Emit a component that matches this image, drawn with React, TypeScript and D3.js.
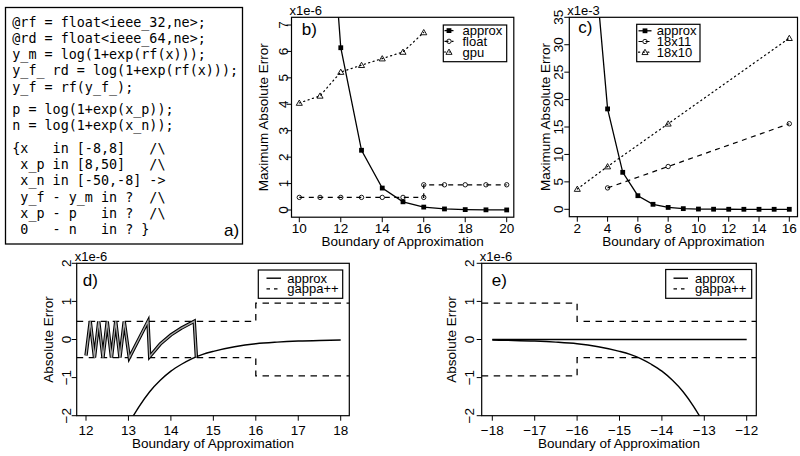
import React from 'react';
import * as d3 from 'd3';

const FONT = '"Liberation Sans", Arial, Helvetica, sans-serif';
const MONO = '"DejaVu Sans Mono", "Liberation Mono", monospace';

// ---------- panel a: code listing ----------
const codeLines = [
  '@rf = float<ieee_32,ne>;',
  '@rd = float<ieee_64,ne>;',
  'y_m = log(1+exp(rf(x)));',
  'y_f_ rd = log(1+exp(rf(x)));',
  'y_f = rf(y_f_);',
  'p = log(1+exp(x_p));',
  'n = log(1+exp(x_n));',
  '{x   in [-8,8]   /\\',
  ' x_p in [8,50]   /\\',
  ' x_n in [-50,-8] ->',
  ' y_f - y_m in ?  /\\',
  ' x_p - p   in ?  /\\',
  ' 0   - n   in ? }',
];

// ---------- panel b ----------
const bBoundary = [10, 11, 12, 13, 14, 15, 16, 17, 18, 19, 20];
const bApprox = [45.4, 16.7, 6.14, 2.26, 0.83, 0.31, 0.11, 0.04, 0.015, 0.006, 0.002];
const bFloatX = [10, 11, 12, 13, 14, 15, 16, 16, 17, 18, 19, 20];
const bFloat = [0.477, 0.477, 0.477, 0.477, 0.477, 0.477, 0.477, 0.954, 0.954, 0.954, 0.954, 0.954];
const bGpuX = [10, 11, 12, 13, 14, 15, 16];
const bGpu = [4.05, 4.32, 5.22, 5.48, 5.73, 5.98, 6.72];
const bXTicks = [10, 12, 14, 16, 18, 20];
const bYTicks = [0, 1, 2, 3, 4, 5, 6, 7];
const bLegend = ['approx', 'float', 'gpu'];

// ---------- panel c ----------
const cBoundary = [2, 3, 4, 5, 6, 7, 8, 9, 10, 11, 12, 13, 14, 15, 16];
const cApprox = [135, 49.8, 18.3, 6.74, 2.48, 0.91, 0.34, 0.12, 0.045, 0.017, 0.006, 0.002, 0.0008, 0.0003, 0.0001];
const c18x11X = [4, 8, 16];
const c18x11 = [3.9, 7.8, 15.6];
const c18x10X = [2, 4, 8, 16];
const c18x10 = [3.7, 7.8, 15.6, 31.2];
const cXTicks = [2, 4, 6, 8, 10, 12, 14, 16];
const cYTicks = [0, 5, 10, 15, 20, 25, 30, 35];
const cLegend = ['approx', '18x11', '18x10'];

// ---------- panel d ----------
const dSawX = [12.0, 12.1, 12.2, 12.3, 12.4, 12.5, 12.6, 12.7, 12.8, 12.9, 13.02, 13.46, 13.5, 13.75, 14.0, 14.25, 14.55, 14.6];
const dSawY = [-0.42, 0.477, -0.477, 0.477, -0.477, 0.477, -0.477, 0.477, -0.477, 0.477, -0.477, 0.477, -0.45, -0.12, 0.12, 0.3, 0.477, -0.455];
const dCurveX = [13.1, 13.25, 13.5, 13.75, 14.0, 14.25, 14.5, 14.75, 15.0, 15.5, 16.0, 16.5, 17.0, 17.5, 18.0];
const dCurveY = [-2.03, -1.76, -1.37, -1.07, -0.83, -0.65, -0.5, -0.39, -0.31, -0.19, -0.11, -0.068, -0.041, -0.025, -0.015];
const dGappaStep = [16];
const dGappaLevels = [0.477, 0.954];
const dXTicks = [12, 13, 14, 15, 16, 17, 18];

// ---------- panel e ----------
const eCurveX = [-18.0, -17.5, -17.0, -16.5, -16.0, -15.5, -15.0, -14.75, -14.5, -14.25, -14.0, -13.75, -13.5, -13.25, -13.1];
const eCurveY = [-0.015, -0.025, -0.041, -0.068, -0.11, -0.19, -0.31, -0.39, -0.5, -0.65, -0.83, -1.07, -1.37, -1.76, -2.03];
const eFlatX = [-18, -12];
const eFlatY = [0, 0];
const eGappaStep = [-16];
const eGappaLevels = [0.954, 0.477];
const eXTicks = [-18, -17, -16, -15, -14, -13, -12];
const deYTicks = [-2, -1, 0, 1, 2];
const deLegend = ['approx', 'gappa++'];

const fmt = (v: number) => (v < 0 ? '\u2212' + Math.abs(v) : String(v));

const Sq = ({ x, y }: { x: number; y: number }) => (
  <rect x={x - 2.4} y={y - 2.4} width={4.8} height={4.8} fill="#000" />
);
const Circ = ({ x, y }: { x: number; y: number }) => (
  <circle cx={x} cy={y} r={2.2} fill="none" stroke="#000" strokeWidth={0.9} />
);
const triPath = d3.symbol(d3.symbolTriangle, 16)() as string;
const Tri = ({ x, y }: { x: number; y: number }) => (
  <path transform={`translate(${x},${y + 0.6})`} d={triPath} fill="none" stroke="#000" strokeWidth={0.9} />
);

type Box = { x0: number; x1: number; y0: number; y1: number };

function Frame({ id, box, x, y, xTicks, yTicks, xLabY, yLabX, yTitleX, xTitleY, yTitle, exp, tag, tagX, tagY, children }: any) {
  const b: Box = box;
  return (
    <g>
      <defs>
        <clipPath id={id}>
          <rect x={b.x0} y={b.y0} width={b.x1 - b.x0} height={b.y1 - b.y0} />
        </clipPath>
      </defs>
      <g clipPath={`url(#${id})`}>{children}</g>
      <rect x={b.x0} y={b.y0} width={b.x1 - b.x0} height={b.y1 - b.y0} fill="none" stroke="#000" strokeWidth={1.2} />
      {xTicks.map((t: number) => (
        <g key={'x' + t}>
          <line x1={x(t)} x2={x(t)} y1={b.y1} y2={b.y1 + 5} stroke="#000" strokeWidth={1} />
          <text x={x(t)} y={xLabY} textAnchor="middle" dominantBaseline="central" fontSize={13.5}>
            {fmt(t)}
          </text>
        </g>
      ))}
      {yTicks.map((t: number) => (
        <g key={'y' + t}>
          <line x1={b.x0 - 5} x2={b.x0} y1={y(t)} y2={y(t)} stroke="#000" strokeWidth={1} />
          <text transform={`translate(${yLabX},${y(t)}) rotate(-90)`} textAnchor="middle" dominantBaseline="central" fontSize={13.5}>
            {fmt(t)}
          </text>
        </g>
      ))}
      <text transform={`translate(${yTitleX},${(b.y0 + b.y1) / 2}) rotate(-90)`} textAnchor="middle" dominantBaseline="central" fontSize={13.5}>
        {yTitle}
      </text>
      <text x={(b.x0 + b.x1) / 2} y={xTitleY} textAnchor="middle" dominantBaseline="central" fontSize={13.5}>
        Boundary of Approximation
      </text>
      <text x={b.x0 - 2} y={b.y0 - 7} dominantBaseline="central" fontSize={13}>
        {exp}
      </text>
      <text x={tagX} y={tagY} dominantBaseline="central" fontSize={17}>
        {tag}
      </text>
    </g>
  );
}

function Legend({ box, labels, rows, lineX0, lineX1, textX, styles, markers }: any) {
  return (
    <g>
      <rect x={box.x0} y={box.y0} width={box.x1 - box.x0} height={box.y1 - box.y0} fill="#fff" stroke="#000" strokeWidth={1.2} />
      {labels.map((l: string, i: number) => {
        const M = markers ? markers[i] : null;
        return (
          <g key={l}>
            <line x1={lineX0} x2={lineX1} y1={rows[i]} y2={rows[i]} stroke="#000" strokeWidth={styles[i].w} strokeDasharray={styles[i].dash} strokeLinecap={styles[i].cap || 'butt'} />
            {M ? <M x={(lineX0 + lineX1) / 2} y={rows[i]} /> : null}
            <text x={textX} y={rows[i]} dominantBaseline="central" fontSize={13}>
              {l}
            </text>
          </g>
        );
      })}
    </g>
  );
}

export default function App() {
  // panel b scales
  const xb = d3.scaleLinear().domain([10, 20]).range([299.3, 506.7]);
  const yb = d3.scaleLinear().domain([0, 7]).range([210, 25]);
  const boxB: Box = { x0: 291.5, x1: 513.8, y0: 17.3, y1: 217.2 };

  // panel c scales
  const xc = d3.scaleLinear().domain([2, 16]).range([577.3, 789.3]);
  const yc = d3.scaleLinear().domain([0, 35]).range([209.3, 17.3]);
  const boxC: Box = { x0: 569.3, x1: 797.5, y0: 17.3, y1: 216.7 };

  // panel d scales
  const xd = d3.scaleLinear().domain([12, 18]).range([86, 340.7]);
  const yd = d3.scaleLinear().domain([-2, 2]).range([415.7, 263.3]);
  const boxD: Box = { x0: 76.7, x1: 349.3, y0: 263.3, y1: 415.7 };

  // panel e scales
  const xe = d3.scaleLinear().domain([-18, -12]).range([492.3, 746.7]);
  const ye = yd;
  const boxE: Box = { x0: 481.7, x1: 756.3, y0: 263.3, y1: 415.7 };

  const lineB = (xs: number[], ys: number[]) =>
    d3.line<number>().x((_, i) => xb(xs[i])).y((d) => yb(d))(ys) as string;
  const lineC = (xs: number[], ys: number[]) =>
    d3.line<number>().x((_, i) => xc(xs[i])).y((d) => yc(d))(ys) as string;
  const lineD = (xs: number[], ys: number[], curve: any = d3.curveLinear) =>
    d3.line<number>().x((_, i) => xd(xs[i])).y((d) => yd(d)).curve(curve)(ys) as string;
  const lineE = (xs: number[], ys: number[], curve: any = d3.curveLinear) =>
    d3.line<number>().x((_, i) => xe(xs[i])).y((d) => ye(d)).curve(curve)(ys) as string;

  // gappa step lines for d and e
  const dL = xd.invert(boxD.x0), dR = xd.invert(boxD.x1);
  const dGX = [dL, dGappaStep[0], dGappaStep[0], dR];
  const dGUp = [dGappaLevels[0], dGappaLevels[0], dGappaLevels[1], dGappaLevels[1]];
  const eL = xe.invert(boxE.x0), eR = xe.invert(boxE.x1);
  const eGX = [eL, eGappaStep[0], eGappaStep[0], eR];
  const eGUp = [eGappaLevels[0], eGappaLevels[0], eGappaLevels[1], eGappaLevels[1]];

  const dashStyle = '5,4.5';
  const dotStyle = '1.2,3.4';
  const gappaDash = '6.5,5.5';

  const codeY = codeLines.map((_, i) => 22 + i * 16.3 + (i >= 5 ? 6 : 0) + (i >= 7 ? 6 : 0));

  return (
    <svg width={800} height={456} style={{ position: 'absolute', left: 0, top: 0, background: '#fff' }} fontFamily={FONT}>
      <rect x={0} y={0} width={800} height={456} fill="#fff" />

      {/* panel a */}
      <rect x={5.5} y={7.5} width={237} height={236.5} fill="none" stroke="#000" strokeWidth={1.3} />
      {codeLines.map((l, i) => (
        <text key={i} x={12.3} y={codeY[i]} dominantBaseline="central" fontFamily={MONO} fontSize={13.4} style={{ whiteSpace: 'pre' }}>
          {l}
        </text>
      ))}
      <text x={224} y={230} dominantBaseline="central" fontSize={17}>a)</text>

      {/* panel b */}
      <Frame id="clipB" box={boxB} x={xb} y={yb} xTicks={bXTicks} yTicks={bYTicks} xLabY={228} yLabX={283.3}
        yTitleX={263.3} xTitleY={241.5} yTitle="Maximum Absolute Error" exp="x1e-6" tag="b)" tagX={301.7} tagY={29.5}>
        <path d={lineB(bBoundary, bApprox)} fill="none" stroke="#000" strokeWidth={1.3} />
        {bBoundary.map((v, i) => <Sq key={i} x={xb(v)} y={yb(bApprox[i])} />)}
        <path d={lineB(bFloatX, bFloat)} fill="none" stroke="#000" strokeWidth={1.2} strokeDasharray={dashStyle} />
        {bFloatX.map((v, i) => <Circ key={i} x={xb(v)} y={yb(bFloat[i])} />)}
        <path d={lineB(bGpuX, bGpu)} fill="none" stroke="#000" strokeWidth={1.2} strokeDasharray={dotStyle} strokeLinecap="round" />
        {bGpuX.map((v, i) => <Tri key={i} x={xb(v)} y={yb(bGpu[i])} />)}
      </Frame>
      <Legend box={{ x0: 443.3, x1: 506.7, y0: 25, y1: 61.7 }} labels={bLegend} rows={[30.6, 41.3, 52]}
        lineX0={444.5} lineX1={453.5} textX={462.5}
        styles={[{ w: 1.3 }, { w: 1.2, dash: '4,3' }, { w: 1.2, dash: dotStyle, cap: 'round' }]}
        markers={[Sq, Circ, Tri]} />

      {/* panel c */}
      <Frame id="clipC" box={boxC} x={xc} y={yc} xTicks={cXTicks} yTicks={cYTicks} xLabY={228} yLabX={558.3}
        yTitleX={545} xTitleY={241.5} yTitle="Maximum Absolute Error" exp="x1e-3" tag="c)" tagX={578.3} tagY={27}>
        <path d={lineC(cBoundary, cApprox)} fill="none" stroke="#000" strokeWidth={1.3} />
        {cBoundary.map((v, i) => <Sq key={i} x={xc(v)} y={yc(cApprox[i])} />)}
        <path d={lineC(c18x11X, c18x11)} fill="none" stroke="#000" strokeWidth={1.2} strokeDasharray={dashStyle} />
        {c18x11X.map((v, i) => <Circ key={i} x={xc(v)} y={yc(c18x11[i])} />)}
        <path d={lineC(c18x10X, c18x10)} fill="none" stroke="#000" strokeWidth={1.2} strokeDasharray={dotStyle} strokeLinecap="round" />
        {c18x10X.map((v, i) => <Tri key={i} x={xc(v)} y={yc(c18x10[i])} />)}
      </Frame>
      <Legend box={{ x0: 636.7, x1: 700, y0: 24.3, y1: 61.7 }} labels={cLegend} rows={[30.8, 41.5, 52.2]}
        lineX0={638.5} lineX1={651.5} textX={656.7}
        styles={[{ w: 1.3 }, { w: 1.2, dash: '4,3' }, { w: 1.2, dash: dotStyle, cap: 'round' }]}
        markers={[Sq, Circ, Tri]} />

      {/* panel d */}
      <Frame id="clipD" box={boxD} x={xd} y={yd} xTicks={dXTicks} yTicks={deYTicks} xLabY={430} yLabX={66.7}
        yTitleX={48.3} xTitleY={443.5} yTitle="Absolute Error" exp="x1e-6" tag="d)" tagX={82.7} tagY={280}>
        <path d={lineD(dGX, dGUp)} fill="none" stroke="#000" strokeWidth={1.3} strokeDasharray={gappaDash} />
        <path d={lineD(dGX, dGUp.map((v) => -v))} fill="none" stroke="#000" strokeWidth={1.3} strokeDasharray={gappaDash} />
        <path d={lineD(dCurveX, dCurveY, d3.curveMonotoneX)} fill="none" stroke="#000" strokeWidth={1.4} />
        <path d={lineD(dSawX, dSawY)} fill="none" stroke="#000" strokeWidth={3.4} strokeLinejoin="miter" />
        <path d={lineD(dSawX, dSawY)} fill="none" stroke="#a8a8a8" strokeWidth={1.3} strokeLinejoin="miter" />
      </Frame>
      <Legend box={{ x0: 258.3, x1: 342.7, y0: 270, y1: 298.3 }} labels={deLegend} rows={[278.2, 288.8]}
        lineX0={266.5} lineX1={281} textX={287.3}
        styles={[{ w: 1.4 }, { w: 1.3, dash: '3.5,4' }]} />

      {/* panel e */}
      <Frame id="clipE" box={boxE} x={xe} y={ye} xTicks={eXTicks} yTicks={deYTicks} xLabY={430} yLabX={469}
        yTitleX={451.7} xTitleY={443.5} yTitle="Absolute Error" exp="x1e-6" tag="e)" tagX={491.7} tagY={280}>
        <path d={lineE(eGX, eGUp)} fill="none" stroke="#000" strokeWidth={1.3} strokeDasharray={gappaDash} />
        <path d={lineE(eGX, eGUp.map((v) => -v))} fill="none" stroke="#000" strokeWidth={1.3} strokeDasharray={gappaDash} />
        <path d={lineE(eFlatX, eFlatY)} fill="none" stroke="#000" strokeWidth={1.4} />
        <path d={lineE(eCurveX, eCurveY, d3.curveMonotoneX)} fill="none" stroke="#000" strokeWidth={1.4} />
      </Frame>
      <Legend box={{ x0: 665.7, x1: 751.7, y0: 269.5, y1: 298.3 }} labels={deLegend} rows={[278.2, 288.8]}
        lineX0={673.5} lineX1={688} textX={695}
        styles={[{ w: 1.4 }, { w: 1.3, dash: '3.5,4' }]} />
    </svg>
  );
}
